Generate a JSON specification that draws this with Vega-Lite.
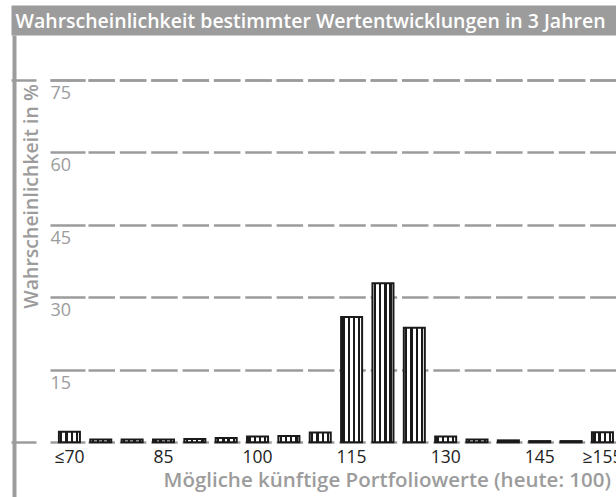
{
  "$schema": "https://vega.github.io/schema/vega-lite/v6.json",
  "autosize": {"type": "none"},
  "padding": {"left": 11, "top": 35, "right": 0, "bottom": 0},
  "width": 605,
  "height": 462,
  "background": "white",
  "config": {"font": "Open Sans", "view": {"stroke": null}},
  "data": {
    "values": [
      {"wert": "≤70", "p": 2.2},
      {"wert": "75", "p": 0.6},
      {"wert": "80", "p": 0.6},
      {"wert": "85", "p": 0.6},
      {"wert": "90", "p": 0.7},
      {"wert": "95", "p": 0.9},
      {"wert": "100", "p": 1.2},
      {"wert": "105", "p": 1.3},
      {"wert": "110", "p": 2.0},
      {"wert": "115", "p": 25.9},
      {"wert": "120", "p": 32.9},
      {"wert": "125", "p": 23.7},
      {"wert": "130", "p": 1.2},
      {"wert": "135", "p": 0.6},
      {"wert": "140", "p": 0.4},
      {"wert": "145", "p": 0.25},
      {"wert": "150", "p": 0.25},
      {"wert": "≥155", "p": 2.1}
    ]
  },
  "layer": [
    {
      "mark": {
        "type": "bar",
        "stroke": "#1a1a1a",
        "strokeWidth": 2,
        "fill": {
          "gradient": "linear", "x1": 0, "y1": 0, "x2": 1, "y2": 0,
          "stops": [
            {"offset": 0, "color": "#ffffff"}, {"offset": 0.06, "color": "#ffffff"},
            {"offset": 0.06, "color": "#1a1a1a"}, {"offset": 0.17, "color": "#1a1a1a"},
            {"offset": 0.17, "color": "#ffffff"}, {"offset": 0.31, "color": "#ffffff"},
            {"offset": 0.31, "color": "#1a1a1a"}, {"offset": 0.42, "color": "#1a1a1a"},
            {"offset": 0.42, "color": "#ffffff"}, {"offset": 0.56, "color": "#ffffff"},
            {"offset": 0.56, "color": "#1a1a1a"}, {"offset": 0.67, "color": "#1a1a1a"},
            {"offset": 0.67, "color": "#ffffff"}, {"offset": 0.81, "color": "#ffffff"},
            {"offset": 0.81, "color": "#1a1a1a"}, {"offset": 0.92, "color": "#1a1a1a"},
            {"offset": 0.92, "color": "#ffffff"}, {"offset": 1, "color": "#ffffff"}
          ]
        }
      },
      "encoding": {
        "x": {
          "field": "wert", "type": "ordinal", "sort": null,
          "scale": {"paddingInner": 0.33, "paddingOuter": 0.813, "align": 0.94},
          "axis": {
            "orient": "bottom", "offset": -54.7, "domain": false, "ticks": false, "tickSize": 0, "grid": false,
            "values": ["≤70", "85", "100", "115", "130", "145", "≥155"],
            "labelAngle": 0, "labelFontSize": 17.5, "labelColor": "#222222", "labelPadding": 6,
            "title": "Mögliche künftige Portfoliowerte (heute: 100)",
            "titleFontSize": 20.5, "titleFontWeight": 600, "titleColor": "#9c9c9c",
            "titleX": 152, "titleY": 44.5, "titleAlign": "left", "titleBaseline": "alphabetic", "titleAngle": 0
          }
        },
        "y": {
          "field": "p", "type": "quantitative",
          "scale": {"domain": [-11.32, 84.27], "nice": false, "zero": false},
          "axis": {
            "orient": "left", "offset": -3, "values": [15, 30, 45, 60, 75],
            "domain": true, "domainColor": "#9c9c9c", "domainWidth": 4,
            "ticks": false, "tickSize": 0,
            "labelAlign": "left", "labelBaseline": "top", "labelPadding": -36, "labelOffset": 4.5,
            "labelFontSize": 18, "labelColor": "#9c9c9c",
            "grid": true, "gridColor": "#9c9c9c", "gridWidth": 2.3,
            "gridDash": [0, 39, 35, 3, 26.5, 4.85, 26.5, 4.85, 26.5, 4.85, 26.5, 4.85, 26.5, 4.85, 26.5, 4.85, 26.5, 4.85, 26.5, 4.85, 26.5, 4.85, 26.5, 4.85, 26.5, 4.85, 26.5, 4.85, 26.5, 4.85, 26.5, 4.85, 26.5, 4.85, 26.5, 4.85, 26.5, 4.85, 26.5, 4.85, 26.5, 4.85],
            "title": "Wahrscheinlichkeit in %",
            "titleFontSize": 19.5, "titleFontWeight": 600, "titleColor": "#9c9c9c",
            "titleAngle": -90, "titleX": 23.5, "titleY": 161, "titleAlign": "center", "titleBaseline": "alphabetic"
          }
        },
        "y2": {"datum": 0}
      }
    },
    {
      "mark": {"type": "bar", "opacity": 0},
      "encoding": {
        "x": {
          "field": "wert", "type": "ordinal", "sort": null,
          "axis": {
            "orient": "top", "offset": 15, "domainWidth": 30, "domainColor": "#9c9c9c",
            "ticks": false, "labels": false, "grid": false,
            "title": "Wahrscheinlichkeit bestimmter Wertentwicklungen in 3 Jahren",
            "titleColor": "#ffffff", "titleFontSize": 19.5, "titleFontWeight": 600,
            "titleX": 4, "titleY": 7.5, "titleAlign": "left", "titleBaseline": "alphabetic", "titleAngle": 0
          }
        },
        "y": {
          "field": "p", "type": "quantitative",
          "axis": {
            "orient": "left", "offset": -3, "values": [0, 75],
            "domain": false, "ticks": false, "labels": false, "title": null,
            "grid": true, "gridColor": "#9c9c9c", "gridWidth": 2.3,
            "gridDash": [25, 14, 35, 3, 26.5, 4.85, 26.5, 4.85, 26.5, 4.85, 26.5, 4.85, 26.5, 4.85, 26.5, 4.85, 26.5, 4.85, 26.5, 4.85, 26.5, 4.85, 26.5, 4.85, 26.5, 4.85, 26.5, 4.85, 26.5, 4.85, 26.5, 4.85, 26.5, 4.85, 26.5, 4.85, 26.5, 4.85, 26.5, 4.85, 26.5, 4.85]
          }
        },
        "y2": {"datum": 0}
      }
    }
  ],
  "resolve": {"axis": {"x": "independent", "y": "independent"}}
}
